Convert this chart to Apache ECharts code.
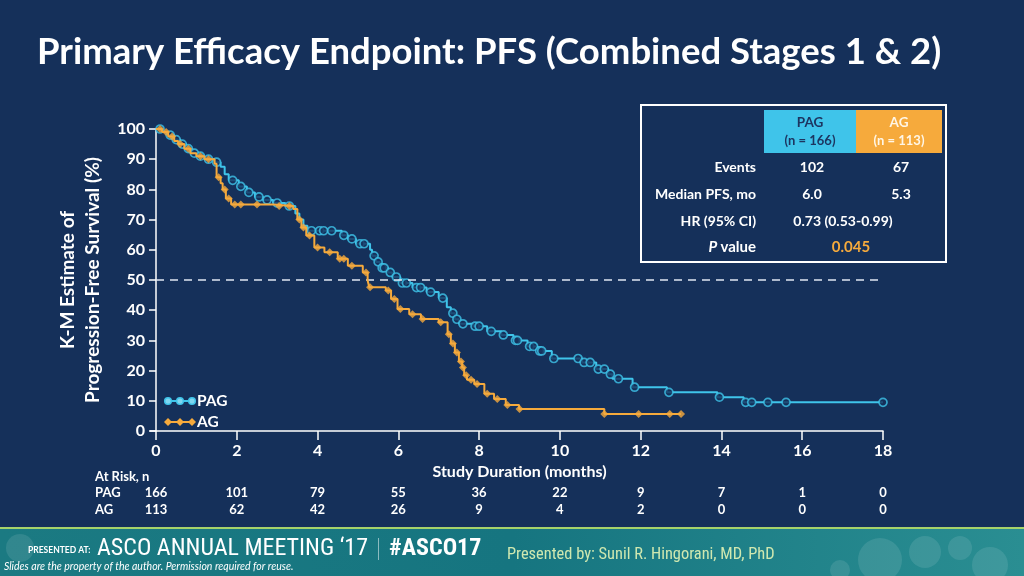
<!DOCTYPE html>
<html><head><meta charset="utf-8">
<script src="https://cdn.jsdelivr.net/npm/echarts@6/dist/echarts.min.js"></script>
<style>html,body{margin:0;padding:0;background:#15305a;}#c{width:1024px;height:576px;}</style>
</head><body><div id="c"></div>
<script>
// ---- Data ----
const pagSteps = [[0,100],[0.15,99],[0.3,98],[0.45,96.5],[0.6,95],[0.75,93.5],[0.9,92],[1.05,91],[1.2,90],[1.45,89],[1.6,87.5],[1.7,85],[1.8,83],[2.05,81],[2.25,79],[2.45,77.5],[2.65,76.5],[2.9,75.5],[3.2,74.5],[3.45,72],[3.55,70],[3.65,68],[3.75,66.3],[4.6,64.8],[4.75,63.6],[4.95,62],[5.3,60],[5.35,58],[5.45,56],[5.55,54],[5.75,52.5],[5.85,51],[6.05,49],[6.35,47.5],[6.7,46],[7.0,44],[7.2,41],[7.3,39],[7.4,37],[7.5,35.5],[7.85,34.7],[8.2,33],[8.55,31.8],[8.85,30],[9.2,28],[9.45,26.5],[9.8,24],[10.55,22.7],[10.9,20.5],[11.2,18.8],[11.3,17.3],[11.8,14.5],[12.65,12.8],[13.9,11.2],[14.55,9.5],[18,9.5]];
const pagCensors = [[0.1,100],[0.35,98],[0.5,96.5],[0.65,95],[0.8,93.5],[0.95,92],[1.1,91],[1.3,90],[1.5,89],[1.9,83],[2.1,81],[2.3,79],[2.55,77.5],[2.75,76.5],[3.0,75.5],[3.3,74.5],[3.85,66.3],[4.05,66.3],[4.15,66.3],[4.35,66.3],[4.65,64.8],[4.85,63.6],[5.05,62],[5.15,62],[5.4,58],[5.5,56],[5.6,54],[5.65,54],[5.8,52.5],[5.95,51],[6.1,49],[6.2,49],[6.45,47.5],[6.55,47.5],[6.8,46],[7.1,44],[7.35,39],[7.45,37],[7.6,35.5],[7.9,34.7],[8.0,34.7],[8.3,33],[8.6,31.8],[8.9,30],[8.95,30],[9.25,28],[9.35,28],[9.5,26.5],[9.55,26.5],[9.85,24],[10.45,24],[10.6,22.7],[10.75,22.7],[10.95,20.5],[11.1,20.5],[11.25,18.8],[11.45,17.3],[11.85,14.5],[12.7,12.8],[13.95,11.2],[14.6,9.5],[14.75,9.5],[15.15,9.5],[15.6,9.5],[18,9.5]];
const agSteps = [[0,100],[0.15,99],[0.3,97.5],[0.45,96],[0.55,95],[0.7,93.5],[0.85,92],[1.0,91],[1.2,90],[1.45,88.5],[1.5,84],[1.6,82],[1.65,80],[1.73,77],[1.86,75],[2.9,74.5],[3.4,73.5],[3.5,70],[3.6,67.4],[3.72,64.7],[3.92,60.8],[4.17,59.2],[4.5,57],[4.75,54.7],[5.12,52.5],[5.24,49.8],[5.28,47.6],[5.69,46.5],[5.82,43.7],[5.98,40.4],[6.27,38.7],[6.56,37.1],[7.0,36],[7.22,32],[7.3,29],[7.4,26],[7.5,23],[7.58,21],[7.63,18.5],[7.7,17],[7.88,15.6],[8.13,12.3],[8.37,10.6],[8.66,8.6],[8.99,7.3],[11.1,5.6],[13.0,5.6]];
const agCensors = [[0.1,100],[0.25,99],[0.4,97.5],[0.6,95],[0.8,93.5],[1.1,91],[1.3,90],[1.55,84],[1.7,80],[1.8,77],[1.95,75],[2.1,75],[2.5,75],[3.05,74.5],[3.3,74.5],[3.55,70],[3.65,67.4],[3.8,64.7],[4.0,60.8],[4.3,59.2],[4.55,57],[4.65,57],[4.85,54.7],[5.2,52.5],[5.3,47.6],[5.75,46.5],[5.9,43.7],[6.05,40.4],[6.35,38.7],[6.6,37.1],[7.05,36],[7.25,32],[7.35,29],[7.45,26],[7.55,23],[7.6,21],[7.68,18.5],[7.8,17],[7.95,15.6],[8.2,12.3],[8.45,10.6],[8.7,8.6],[9.0,7.3],[11.1,5.6],[11.95,5.6],[12.72,5.6],[13.0,5.6]];
const medianLine = 50;
const atRiskTimes = [0,2,4,6,8,10,12,14,16,18];
const atRiskPAG = [166,101,79,55,36,22,9,7,1,0];
const atRiskAG = [113,62,42,26,9,4,2,0,0,0];
const seriesNames = ['PAG','AG'];
const groupN = ['(n = 166)','(n = 113)'];
const rowLabels = ['Events','Median PFS, mo','HR (95% CI)','P value'];
const eventsVals = ['102','67'];
const medianVals = ['6.0','5.3'];
const hrText = '0.73 (0.53-0.99)';
const pValue = '0.045';

const BLUE = '#3fc4ea', ORANGE = '#f6aa3c', BG = '#15305a', WHITE = '#ffffff';
const F = 'Lato, "Open Sans", sans-serif';
const NARROW = '"Liberation Sans Narrow", "Roboto Condensed", Roboto, sans-serif';

const chart = echarts.init(document.getElementById('c'), null, {renderer:'canvas'});

const option = {
  backgroundColor: BG,
  animation: false,
  grid: {left: 156, right: 141, top: 129, bottom: 145},
  xAxis: {
    type: 'value', min: 0, max: 18, interval: 2,
    name: 'Study Duration (months)', nameLocation: 'middle', nameGap: 29,
    nameTextStyle: {color: WHITE, fontFamily: F, fontWeight: 'bold', fontSize: 16},
    axisLine: {show: true, onZero: false, lineStyle: {color: WHITE, width: 1.5}},
    axisTick: {show: true, length: 9, lineStyle: {color: WHITE, width: 1.5}},
    axisLabel: {color: WHITE, fontFamily: F, fontWeight: 'bold', fontSize: 16, margin: 12},
    splitLine: {show: false}
  },
  yAxis: {
    type: 'value', min: 0, max: 100, interval: 10, offset: 5,
    name: 'K-M Estimate of\nProgression-Free Survival (%)', nameLocation: 'middle', nameGap: 46, nameRotate: 90,
    nameTextStyle: {color: WHITE, fontFamily: F, fontWeight: 'bold', fontSize: 19, lineHeight: 25},
    axisLine: {show: true, lineStyle: {color: WHITE, width: 1.5}},
    axisTick: {show: true, length: 7, lineStyle: {color: WHITE, width: 1.5}},
    axisLabel: {color: WHITE, fontFamily: F, fontWeight: 'bold', fontSize: 16, margin: 6},
    splitLine: {show: false}
  },
  series: [
    {name: 'PAG', type: 'line', step: 'end', data: pagSteps, symbol: 'none', z: 3,
     lineStyle: {color: BLUE, width: 2},
     markLine: {silent: true, symbol: 'none', label: {show: false},
       lineStyle: {color: '#dfe6f2', type: [8, 6], width: 1.5},
       data: [{yAxis: medianLine}]}},
    {name: 'PAG censored', type: 'scatter', data: pagCensors, symbol: 'circle', symbolSize: 8, z: 4,
     itemStyle: {color: BG, borderColor: BLUE, borderWidth: 1.7}},
    {name: 'AG', type: 'line', step: 'end', data: agSteps, symbol: 'none', z: 5,
     lineStyle: {color: ORANGE, width: 2}},
    {name: 'AG censored', type: 'scatter', data: agCensors, symbol: 'diamond', symbolSize: 8, z: 6,
     itemStyle: {color: ORANGE}}
  ]
};
chart.setOption(option);

// ---- Graphic elements (title, table, legend, at-risk, footer) ----
const g = [];
const txt = (x, y, text, o = {}) => ({type: 'text', x, y, silent: true, z: 20, style: Object.assign({text, fill: WHITE, font: `bold 14px ${F}`, textAlign: 'left', textVerticalAlign: 'middle'}, o)});

g.push(txt(37, 52, 'Primary Efficacy Endpoint: PFS (Combined Stages 1 & 2)', {font: `bold 36.5px ${F}`}));

// x axis line joins the y axis
const x0 = chart.convertToPixel({xAxisIndex: 0}, 0);
const y0 = chart.convertToPixel({yAxisIndex: 0}, 0);
g.push({type: 'line', shape: {x1: x0 - 6, y1: y0, x2: x0, y2: y0}, style: {stroke: WHITE, lineWidth: 1.5}, z: 10});

// table
g.push({type: 'rect', shape: {x: 641, y: 105, width: 305, height: 157}, style: {fill: 'none', stroke: WHITE, lineWidth: 2}, z: 10});
g.push({type: 'rect', shape: {x: 764, y: 110, width: 92, height: 43}, style: {fill: BLUE}, z: 11});
g.push({type: 'rect', shape: {x: 856, y: 110, width: 86, height: 43}, style: {fill: ORANGE}, z: 11});
const colX = [810, 899];
for (let i = 0; i < 2; i++) {
  const c = i === 0 ? '#1d3560' : '#fff6e6';
  g.push(txt(colX[i], 123, seriesNames[i], {fill: c, font: `bold 13.5px ${F}`, textAlign: 'center'}));
  g.push(txt(colX[i], 141, groupN[i], {fill: c, font: `bold 13px ${F}`, textAlign: 'center'}));
}
const rowY = [167, 194, 221, 247];
for (let r = 0; r < 3; r++) g.push(txt(756, rowY[r], rowLabels[r], {textAlign: 'right', font: `bold 14px ${F}`}));
g.push({type: 'text', x: 756, y: rowY[3], z: 20, style: {
  text: '{i|P} {n|' + rowLabels[3].slice(2) + '}', textAlign: 'right', textVerticalAlign: 'middle',
  rich: {i: {fill: WHITE, font: `italic bold 15px ${F}`}, n: {fill: WHITE, font: `bold 15px ${F}`}}}});
for (let i = 0; i < 2; i++) {
  g.push(txt(colX[i] + 2, rowY[0], eventsVals[i], {textAlign: 'center'}));
  g.push(txt(colX[i] + 2, rowY[1], medianVals[i], {textAlign: 'center'}));
}
g.push(txt(843, rowY[2], hrText, {textAlign: 'center'}));
g.push(txt(851, rowY[3], pValue, {textAlign: 'center', fill: ORANGE, font: `bold 15px ${F}`}));

// legend
const lg = [[401, BLUE, 'circle', seriesNames[0]], [422, ORANGE, 'diamond', seriesNames[1]]];
lg.forEach(([y, col, sym, name]) => {
  g.push({type: 'line', shape: {x1: 166, y1: y, x2: 194, y2: y}, style: {stroke: col, lineWidth: 2}, z: 15});
  [168, 180, 192].forEach(cx => {
    if (sym === 'circle') g.push({type: 'circle', shape: {cx, cy: y, r: 3.3}, style: {fill: '#7fd6f0', stroke: col, lineWidth: 1.5}, z: 16});
    else g.push({type: 'polygon', shape: {points: [[cx, y - 4], [cx + 4, y], [cx, y + 4], [cx - 4, y]]}, style: {fill: col}, z: 16});
  });
  g.push(txt(197, y, name, {font: `bold 15.5px ${F}`}));
});

// at risk
g.push(txt(95, 477, 'At Risk, n', {font: `bold 13px ${F}`}));
g.push(txt(95, 493, seriesNames[0], {font: `bold 13px ${F}`}));
g.push(txt(95, 510, seriesNames[1], {font: `bold 13px ${F}`}));
atRiskTimes.forEach((t, i) => {
  const px = chart.convertToPixel({xAxisIndex: 0}, t);
  g.push(txt(px, 493, String(atRiskPAG[i]), {textAlign: 'center', font: `bold 13px ${F}`}));
  g.push(txt(px, 510, String(atRiskAG[i]), {textAlign: 'center', font: `bold 13px ${F}`}));
});

// footer
g.push({type: 'rect', shape: {x: 0, y: 529, width: 1024, height: 47}, z: 8,
  style: {fill: new echarts.graphic.LinearGradient(0, 0, 1, 0, [{offset: 0, color: '#1b7a82'}, {offset: 0.5, color: '#167580'}, {offset: 1, color: '#2a8e92'}])}});
g.push({type: 'rect', shape: {x: 0, y: 527, width: 1024, height: 2}, style: {fill: '#a6d36a'}, z: 9});
[[880, 560, 22], [925, 552, 16], [960, 548, 12], [840, 570, 10], [990, 565, 18], [20, 548, 14]].forEach(([cx, cy, r]) => {
  g.push({type: 'circle', shape: {cx, cy, r}, style: {fill: 'rgba(255,255,255,0.10)'}, z: 9});
});
g.push(txt(28, 550, 'PRESENTED AT:', {font: `bold 8.5px ${F}`}));
g.push(txt(97, 549, 'ASCO ANNUAL MEETING \u201817', {font: `24px ${NARROW}`}));
g.push({type: 'rect', shape: {x: 378, y: 538, width: 1, height: 22}, style: {fill: 'rgba(255,255,255,0.5)'}, z: 10});
g.push(txt(389, 549, '#ASCO17', {font: `bold 24px ${NARROW}`}));
g.push(txt(507, 555, 'Presented by: Sunil R. Hingorani, MD, PhD', {font: `16.4px ${NARROW}`, fill: '#cfe8b0'}));
g.push(txt(4, 567, 'Slides are the property of the author. Permission required for reuse.', {font: `italic 10.5px ${F}`}));

chart.setOption({graphic: {elements: g}});
</script></body></html>
